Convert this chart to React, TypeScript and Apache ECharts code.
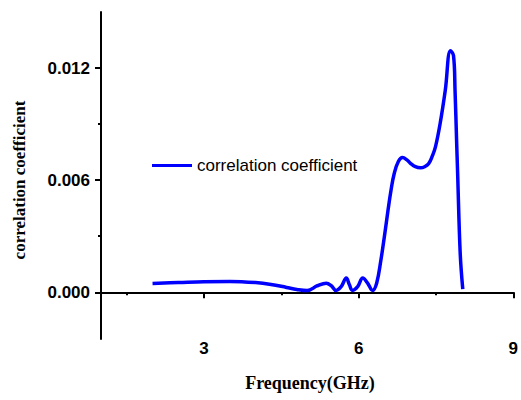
import React, { useEffect, useRef } from "react";
import * as echarts from "echarts";

const freq = [
  2.0, 2.5, 3.0, 3.5, 4.0, 4.3, 4.6, 4.8, 5.0, 5.2, 5.37, 5.47, 5.56, 5.66, 5.76, 5.82, 5.88,
  5.98, 6.08, 6.17, 6.27, 6.35, 6.43, 6.5, 6.57, 6.63, 6.69, 6.77, 6.85, 6.93, 7.01, 7.1, 7.2,
  7.28, 7.36, 7.43, 7.49, 7.58, 7.68, 7.78, 7.84, 7.87, 7.9, 7.92, 7.97, 8.02,
];
const corr = [
  0.00047, 0.00052, 0.00057, 0.00058, 0.00052, 0.00042, 0.00026, 0.00015, 0.00009, 0.00035,
  0.00049, 0.00035, 0.0001, 0.0003, 0.00076, 0.0004, 0.0001, 0.0003, 0.00076, 0.0005, 0.0001,
  0.0005, 0.0017, 0.003, 0.0044, 0.0055, 0.00636, 0.007, 0.00721, 0.0071, 0.00689, 0.00672,
  0.00666, 0.00672, 0.00689, 0.0073, 0.00778, 0.00902, 0.0108, 0.01293, 0.01267, 0.0108,
  0.00813, 0.0064, 0.0021, 0.00017,
];
const xLabels = [3, 6, 9];
const xMinorTicks = [1.5, 4.5, 7.5];
const yLabels = [0, 0.006, 0.012];
const yMinorTicks = [0.003, 0.009];
const seriesName = "correlation coefficient";
const xTitle = "Frequency(GHz)";
const yTitle = "correlation coefficient";

export default function App() {
  const ref = useRef<HTMLDivElement>(null);
  useEffect(() => {
    if (!ref.current) return;
    const chart = echarts.init(ref.current, undefined, { renderer: "svg" });
    const labelStyle = {
      fontFamily: "Arial, 'Liberation Sans', sans-serif",
      fontWeight: "bold" as const,
      fontSize: 17,
      color: "#000",
    };
    chart.setOption({
      animation: false,
      grid: { left: 101, right: 4, top: 12, bottom: 61, containLabel: false },
      legend: {
        show: true,
        left: 147,
        top: 152,
        icon: "rect",
        itemWidth: 40,
        itemHeight: 3,
        itemGap: 5,
        textStyle: {
          fontFamily: "Arial, 'Liberation Sans', sans-serif",
          fontSize: 17,
          color: "#000",
        },
        data: [seriesName],
      },
      xAxis: [
        {
          type: "value",
          min: 1,
          max: 9,
          position: "bottom",
          axisLine: { show: true, lineStyle: { color: "#000", width: 2 } },
          axisTick: { show: true, length: 6, customValues: xLabels, lineStyle: { color: "#000", width: 2 } },
          axisLabel: { show: true, customValues: xLabels, margin: 1, ...labelStyle },
          splitLine: { show: false },
        },
        {
          type: "value",
          min: 1,
          max: 9,
          position: "bottom",
          axisLine: { show: false },
          axisTick: { show: true, length: 3, customValues: xMinorTicks, lineStyle: { color: "#000", width: 2 } },
          axisLabel: { show: false },
          splitLine: { show: false },
        },
      ],
      yAxis: [
        {
          type: "value",
          min: -0.0025,
          max: 0.015,
          position: "left",
          axisLine: { show: true, lineStyle: { color: "#000", width: 2 } },
          axisTick: { show: true, length: 6, customValues: yLabels, lineStyle: { color: "#000", width: 2 } },
          axisLabel: {
            show: true,
            customValues: yLabels,
            margin: 11,
            formatter: (v: number) => v.toFixed(3),
            ...labelStyle,
          },
          splitLine: { show: false },
        },
        {
          type: "value",
          min: -0.0025,
          max: 0.015,
          position: "left",
          axisLine: { show: false },
          axisTick: { show: true, length: 3, customValues: yMinorTicks, lineStyle: { color: "#000", width: 2 } },
          axisLabel: { show: false },
          splitLine: { show: false },
        },
      ],
      graphic: [
        {
          type: "text",
          x: 310,
          y: 383,
          style: {
            text: xTitle,
            font: "bold 18px 'Liberation Serif', 'Times New Roman', serif",
            fill: "#000",
            align: "center",
            verticalAlign: "middle",
          },
        },
        {
          type: "text",
          x: 19,
          y: 180,
          rotation: Math.PI / 2,
          style: {
            text: yTitle,
            font: "bold 17px 'Liberation Serif', 'Times New Roman', serif",
            fill: "#000",
            align: "center",
            verticalAlign: "middle",
          },
        },
      ],
      series: [
        {
          name: seriesName,
          type: "line",
          xAxisIndex: 0,
          yAxisIndex: 0,
          data: freq.map((f, i) => [f, corr[i]]),
          smooth: 0.4,
          showSymbol: false,
          symbol: "none",
          lineStyle: { color: "#0000ff", width: 3.5 },
          itemStyle: { color: "#0000ff" },
        },
      ],
    });
    return () => chart.dispose();
  }, []);
  return <div ref={ref} style={{ width: 521, height: 400, position: "absolute", left: 0, top: 0 }} />;
}
